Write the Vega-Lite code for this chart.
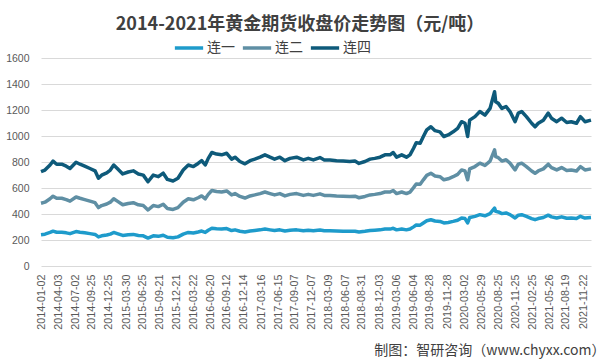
{
  "$schema": "https://vega.github.io/schema/vega-lite/v6.json",
  "width": 550,
  "height": 208,
  "autosize": {"type": "none"},
  "padding": {"left": 41, "top": 58, "right": 14, "bottom": 98},
  "background": "white",
  "title": {
    "text": "2014-2021年黄金期货收盘价走势图（元/吨）",
    "font": "Noto Sans CJK SC",
    "fontSize": 18,
    "fontWeight": "bold",
    "color": "#404040",
    "anchor": "middle",
    "dx": -16,
    "offset": -2
  },
  "data": {
    "values": [
      {"date": "2014-01-02", "连一": 241, "连二": 242, "连四": 243},
      {"date": "2014-01-23", "连一": 245, "连二": 246, "连四": 247},
      {"date": "2014-02-19", "连一": 258, "连二": 259, "连四": 260},
      {"date": "2014-03-07", "连一": 268, "连二": 269, "连四": 270},
      {"date": "2014-03-26", "连一": 260, "连二": 261, "连四": 262},
      {"date": "2014-04-22", "连一": 260, "连二": 261, "连四": 262},
      {"date": "2014-05-16", "连一": 255, "连二": 256, "连四": 257},
      {"date": "2014-06-05", "连一": 249, "连二": 250, "连四": 251},
      {"date": "2014-07-07", "连一": 265, "连二": 266, "连四": 267},
      {"date": "2014-07-28", "连一": 260, "连二": 261, "连四": 262},
      {"date": "2014-08-22", "连一": 255, "连二": 256, "连四": 257},
      {"date": "2014-09-19", "连一": 249, "连二": 250, "连四": 251},
      {"date": "2014-10-16", "连一": 243, "连二": 244, "连四": 245},
      {"date": "2014-11-03", "连一": 224, "连二": 225, "连四": 226},
      {"date": "2014-11-20", "连一": 232, "连二": 233, "连四": 234},
      {"date": "2014-12-17", "连一": 238, "连二": 239, "连四": 240},
      {"date": "2015-01-05", "连一": 245, "连二": 246, "连四": 247},
      {"date": "2015-01-23", "连一": 258, "连二": 259, "连四": 260},
      {"date": "2015-02-11", "连一": 249, "连二": 250, "连四": 251},
      {"date": "2015-03-12", "连一": 235, "连二": 236, "连四": 237},
      {"date": "2015-04-10", "连一": 240, "连二": 241, "连四": 242},
      {"date": "2015-05-07", "连一": 243, "连二": 244, "连四": 245},
      {"date": "2015-06-03", "连一": 235, "连二": 236, "连四": 237},
      {"date": "2015-06-29", "连一": 232, "连二": 233, "连四": 234},
      {"date": "2015-07-24", "连一": 215, "连二": 216, "连四": 217},
      {"date": "2015-08-21", "连一": 232, "连二": 233, "连四": 234},
      {"date": "2015-09-17", "连一": 228, "连二": 229, "连四": 230},
      {"date": "2015-10-13", "连一": 237, "连二": 238, "连四": 239},
      {"date": "2015-11-04", "连一": 221, "连二": 222, "连四": 223},
      {"date": "2015-12-04", "连一": 217, "连二": 218, "连四": 219},
      {"date": "2015-12-30", "连一": 224, "连二": 225, "连四": 226},
      {"date": "2016-01-27", "连一": 245, "连二": 246, "连四": 247},
      {"date": "2016-02-23", "连一": 258, "连二": 259, "连四": 260},
      {"date": "2016-03-21", "连一": 254, "连二": 255, "连四": 256},
      {"date": "2016-04-15", "连一": 262, "连二": 263, "连四": 264},
      {"date": "2016-05-04", "连一": 269, "连二": 270, "连四": 271},
      {"date": "2016-05-23", "连一": 258, "连二": 259, "连四": 260},
      {"date": "2016-06-08", "连一": 275, "连二": 276, "连四": 277},
      {"date": "2016-06-27", "连一": 290, "连二": 291, "连四": 292},
      {"date": "2016-07-22", "连一": 286, "连二": 287, "连四": 288},
      {"date": "2016-08-18", "连一": 284, "连二": 285, "连四": 286},
      {"date": "2016-09-14", "连一": 288, "连二": 289, "连四": 290},
      {"date": "2016-10-10", "连一": 273, "连二": 274, "连四": 275},
      {"date": "2016-10-28", "连一": 278, "连二": 279, "连四": 280},
      {"date": "2016-11-23", "连一": 267, "连二": 268, "连四": 269},
      {"date": "2016-12-20", "连一": 261, "连二": 262, "连四": 263},
      {"date": "2017-01-16", "连一": 269, "连二": 270, "连四": 271},
      {"date": "2017-02-10", "连一": 273, "连二": 274, "连四": 275},
      {"date": "2017-03-10", "连一": 278, "连二": 279, "连四": 280},
      {"date": "2017-04-05", "连一": 284, "连二": 285, "连四": 286},
      {"date": "2017-05-02", "连一": 278, "连二": 279, "连四": 280},
      {"date": "2017-05-26", "连一": 273, "连二": 274, "连四": 275},
      {"date": "2017-06-23", "连一": 278, "连二": 279, "连四": 280},
      {"date": "2017-07-20", "连一": 269, "连二": 270, "连四": 271},
      {"date": "2017-08-16", "连一": 275, "连二": 276, "连四": 277},
      {"date": "2017-09-20", "连一": 278, "连二": 279, "连四": 280},
      {"date": "2017-10-26", "连一": 271, "连二": 272, "连四": 273},
      {"date": "2017-11-21", "连一": 275, "连二": 276, "连四": 277},
      {"date": "2017-12-18", "连一": 271, "连二": 272, "连四": 273},
      {"date": "2018-01-22", "连一": 277, "连二": 278, "连四": 279},
      {"date": "2018-02-14", "连一": 271, "连二": 272, "连四": 273},
      {"date": "2018-03-16", "连一": 271, "连二": 272, "连四": 273},
      {"date": "2018-04-20", "连一": 269, "连二": 270, "连四": 271},
      {"date": "2018-05-25", "连一": 268, "连二": 269, "连四": 270},
      {"date": "2018-06-29", "连一": 267, "连二": 268, "连四": 269},
      {"date": "2018-07-27", "连一": 268, "连二": 269, "连四": 270},
      {"date": "2018-08-17", "连一": 262, "连二": 263, "连四": 264},
      {"date": "2018-09-18", "连一": 267, "连二": 268, "连四": 269},
      {"date": "2018-10-15", "连一": 273, "连二": 274, "连四": 275},
      {"date": "2018-11-09", "连一": 275, "连二": 276, "连四": 277},
      {"date": "2018-12-07", "连一": 278, "连二": 279, "连四": 280},
      {"date": "2019-01-02", "连一": 284, "连二": 285, "连四": 286},
      {"date": "2019-01-29", "连一": 284, "连二": 285, "连四": 286},
      {"date": "2019-02-15", "连一": 290, "连二": 291, "连四": 292},
      {"date": "2019-03-05", "连一": 278, "连二": 279, "连四": 280},
      {"date": "2019-04-01", "连一": 284, "连二": 285, "连四": 286},
      {"date": "2019-04-26", "连一": 278, "连二": 279, "连四": 280},
      {"date": "2019-05-15", "连一": 284, "连二": 285, "连四": 286},
      {"date": "2019-06-03", "连一": 301, "连二": 302, "连四": 303},
      {"date": "2019-06-17", "连一": 315, "连二": 316, "连四": 317},
      {"date": "2019-07-08", "连一": 314, "连二": 315, "连四": 316},
      {"date": "2019-07-25", "连一": 331, "连二": 332, "连四": 333},
      {"date": "2019-08-12", "连一": 348, "连二": 349, "连四": 350},
      {"date": "2019-09-03", "连一": 356, "连二": 357, "连四": 358},
      {"date": "2019-09-25", "连一": 346, "连二": 347, "连四": 348},
      {"date": "2019-10-21", "连一": 343, "连二": 344, "连四": 345},
      {"date": "2019-11-11", "连一": 331, "连二": 332, "连四": 333},
      {"date": "2019-12-04", "连一": 335, "连二": 336, "连四": 337},
      {"date": "2019-12-30", "连一": 343, "连二": 344, "连四": 345},
      {"date": "2020-01-23", "连一": 352, "连二": 353, "连四": 354},
      {"date": "2020-02-13", "连一": 369, "连二": 370, "连四": 371},
      {"date": "2020-03-02", "连一": 365, "连二": 366, "连四": 367},
      {"date": "2020-03-16", "连一": 331, "连二": 332, "连四": 333},
      {"date": "2020-03-27", "连一": 373, "连二": 374, "连四": 375},
      {"date": "2020-04-24", "连一": 382, "连二": 383, "连四": 384},
      {"date": "2020-05-20", "连一": 395, "连二": 396, "连四": 397},
      {"date": "2020-06-16", "连一": 386, "连二": 387, "连四": 388},
      {"date": "2020-07-13", "连一": 403, "连二": 404, "连四": 405},
      {"date": "2020-08-06", "连一": 446, "连二": 447, "连四": 448},
      {"date": "2020-08-12", "连一": 420, "连二": 421, "连四": 422},
      {"date": "2020-08-26", "连一": 416, "连二": 417, "连四": 418},
      {"date": "2020-09-14", "连一": 403, "连二": 404, "连四": 405},
      {"date": "2020-10-06", "连一": 408, "连二": 409, "连四": 410},
      {"date": "2020-10-27", "连一": 395, "连二": 396, "连四": 397},
      {"date": "2020-11-23", "连一": 369, "连二": 370, "连四": 371},
      {"date": "2020-12-10", "连一": 391, "连二": 392, "连四": 393},
      {"date": "2020-12-28", "连一": 395, "连二": 396, "连四": 397},
      {"date": "2021-01-22", "连一": 382, "连二": 383, "连四": 384},
      {"date": "2021-02-19", "连一": 365, "连二": 366, "连四": 367},
      {"date": "2021-03-09", "连一": 356, "连二": 357, "连四": 358},
      {"date": "2021-03-26", "连一": 365, "连二": 366, "连四": 367},
      {"date": "2021-04-22", "连一": 373, "连二": 374, "连四": 375},
      {"date": "2021-05-18", "连一": 391, "连二": 392, "连四": 393},
      {"date": "2021-06-04", "连一": 378, "连二": 379, "连四": 380},
      {"date": "2021-07-02", "连一": 369, "连二": 370, "连四": 371},
      {"date": "2021-07-28", "连一": 378, "连二": 379, "连四": 380},
      {"date": "2021-08-24", "连一": 367, "连二": 368, "连四": 369},
      {"date": "2021-09-17", "连一": 369, "连二": 370, "连四": 371},
      {"date": "2021-10-15", "连一": 365, "连二": 366, "连四": 367},
      {"date": "2021-11-05", "连一": 382, "连二": 383, "连四": 384},
      {"date": "2021-11-29", "连一": 369, "连二": 370, "连四": 371},
      {"date": "2021-12-31", "连一": 373, "连二": 374, "连四": 375}
    ]
  },
  "transform": [
    {"fold": ["连一", "连二", "连四"], "as": ["series", "price"]},
    {"stack": "price", "groupby": ["date"], "sort": [{"field": "series", "order": "ascending"}], "as": ["stack0", "stack1"]}
  ],
  "mark": {"type": "line", "strokeWidth": 3.5, "strokeJoin": "round"},
  "encoding": {
    "x": {
      "field": "date",
      "type": "temporal",
      "scale": {"type": "utc", "nice": false},
      "axis": {
        "values": [
          {"year": 2014, "month": 1, "date": 2, "utc": true},
          {"year": 2014, "month": 4, "date": 3, "utc": true},
          {"year": 2014, "month": 7, "date": 2, "utc": true},
          {"year": 2014, "month": 9, "date": 25, "utc": true},
          {"year": 2014, "month": 12, "date": 25, "utc": true},
          {"year": 2015, "month": 3, "date": 30, "utc": true},
          {"year": 2015, "month": 6, "date": 25, "utc": true},
          {"year": 2015, "month": 9, "date": 21, "utc": true},
          {"year": 2015, "month": 12, "date": 21, "utc": true},
          {"year": 2016, "month": 3, "date": 22, "utc": true},
          {"year": 2016, "month": 6, "date": 20, "utc": true},
          {"year": 2016, "month": 9, "date": 12, "utc": true},
          {"year": 2016, "month": 12, "date": 14, "utc": true},
          {"year": 2017, "month": 3, "date": 16, "utc": true},
          {"year": 2017, "month": 6, "date": 15, "utc": true},
          {"year": 2017, "month": 9, "date": 7, "utc": true},
          {"year": 2017, "month": 12, "date": 7, "utc": true},
          {"year": 2018, "month": 3, "date": 9, "utc": true},
          {"year": 2018, "month": 6, "date": 7, "utc": true},
          {"year": 2018, "month": 8, "date": 31, "utc": true},
          {"year": 2018, "month": 12, "date": 3, "utc": true},
          {"year": 2019, "month": 3, "date": 6, "utc": true},
          {"year": 2019, "month": 6, "date": 4, "utc": true},
          {"year": 2019, "month": 8, "date": 28, "utc": true},
          {"year": 2019, "month": 11, "date": 28, "utc": true},
          {"year": 2020, "month": 3, "date": 2, "utc": true},
          {"year": 2020, "month": 5, "date": 29, "utc": true},
          {"year": 2020, "month": 8, "date": 25, "utc": true},
          {"year": 2020, "month": 11, "date": 25, "utc": true},
          {"year": 2021, "month": 2, "date": 25, "utc": true},
          {"year": 2021, "month": 5, "date": 26, "utc": true},
          {"year": 2021, "month": 8, "date": 19, "utc": true},
          {"year": 2021, "month": 11, "date": 22, "utc": true}
        ],
        "format": "%Y-%m-%d",
        "labelAngle": 270,
        "labelFont": "Liberation Sans",
        "labelFontSize": 10.8,
        "labelColor": "#595959",
        "labelPadding": 8,
        "labelOverlap": false,
        "labelBound": false,
        "labelFlush": false,
        "ticks": false,
        "domain": false,
        "grid": false,
        "title": "制图：智研咨询（www.chyxx.com）",
        "titleFont": "Noto Sans CJK SC",
        "titleFontSize": 14,
        "titleFontWeight": "normal",
        "titleColor": "#404040",
        "titleAlign": "right",
        "titleBaseline": "middle",
        "titleX": 564,
        "titleY": 84
      }
    },
    "y": {
      "field": "stack1",
      "type": "quantitative",
      "scale": {"domain": [0, 1600], "nice": false},
      "axis": {
        "values": [0, 200, 400, 600, 800, 1000, 1200, 1400, 1600],
        "format": "d",
        "title": null,
        "labelFont": "Liberation Sans",
        "labelFontSize": 10.5,
        "labelColor": "#595959",
        "labelPadding": 12,
        "ticks": false,
        "domain": false,
        "grid": true,
        "gridColor": "#D9D9D9",
        "gridWidth": 1
      }
    },
    "color": {
      "field": "series",
      "type": "nominal",
      "scale": {"domain": ["连一", "连二", "连四"], "range": ["#1E9BCB", "#5F8FA4", "#0E5A7A"]},
      "legend": {
        "orient": "none",
        "legendX": 132,
        "legendY": -26,
        "direction": "horizontal",
        "title": null,
        "symbolType": "stroke",
        "symbolSize": 800,
        "symbolStrokeWidth": 3.5,
        "labelFont": "Noto Sans CJK SC",
        "labelFontSize": 14,
        "labelColor": "#404040",
        "labelOffset": 2,
        "columnPadding": 0
      }
    }
  },
  "config": {"view": {"stroke": null}}
}
